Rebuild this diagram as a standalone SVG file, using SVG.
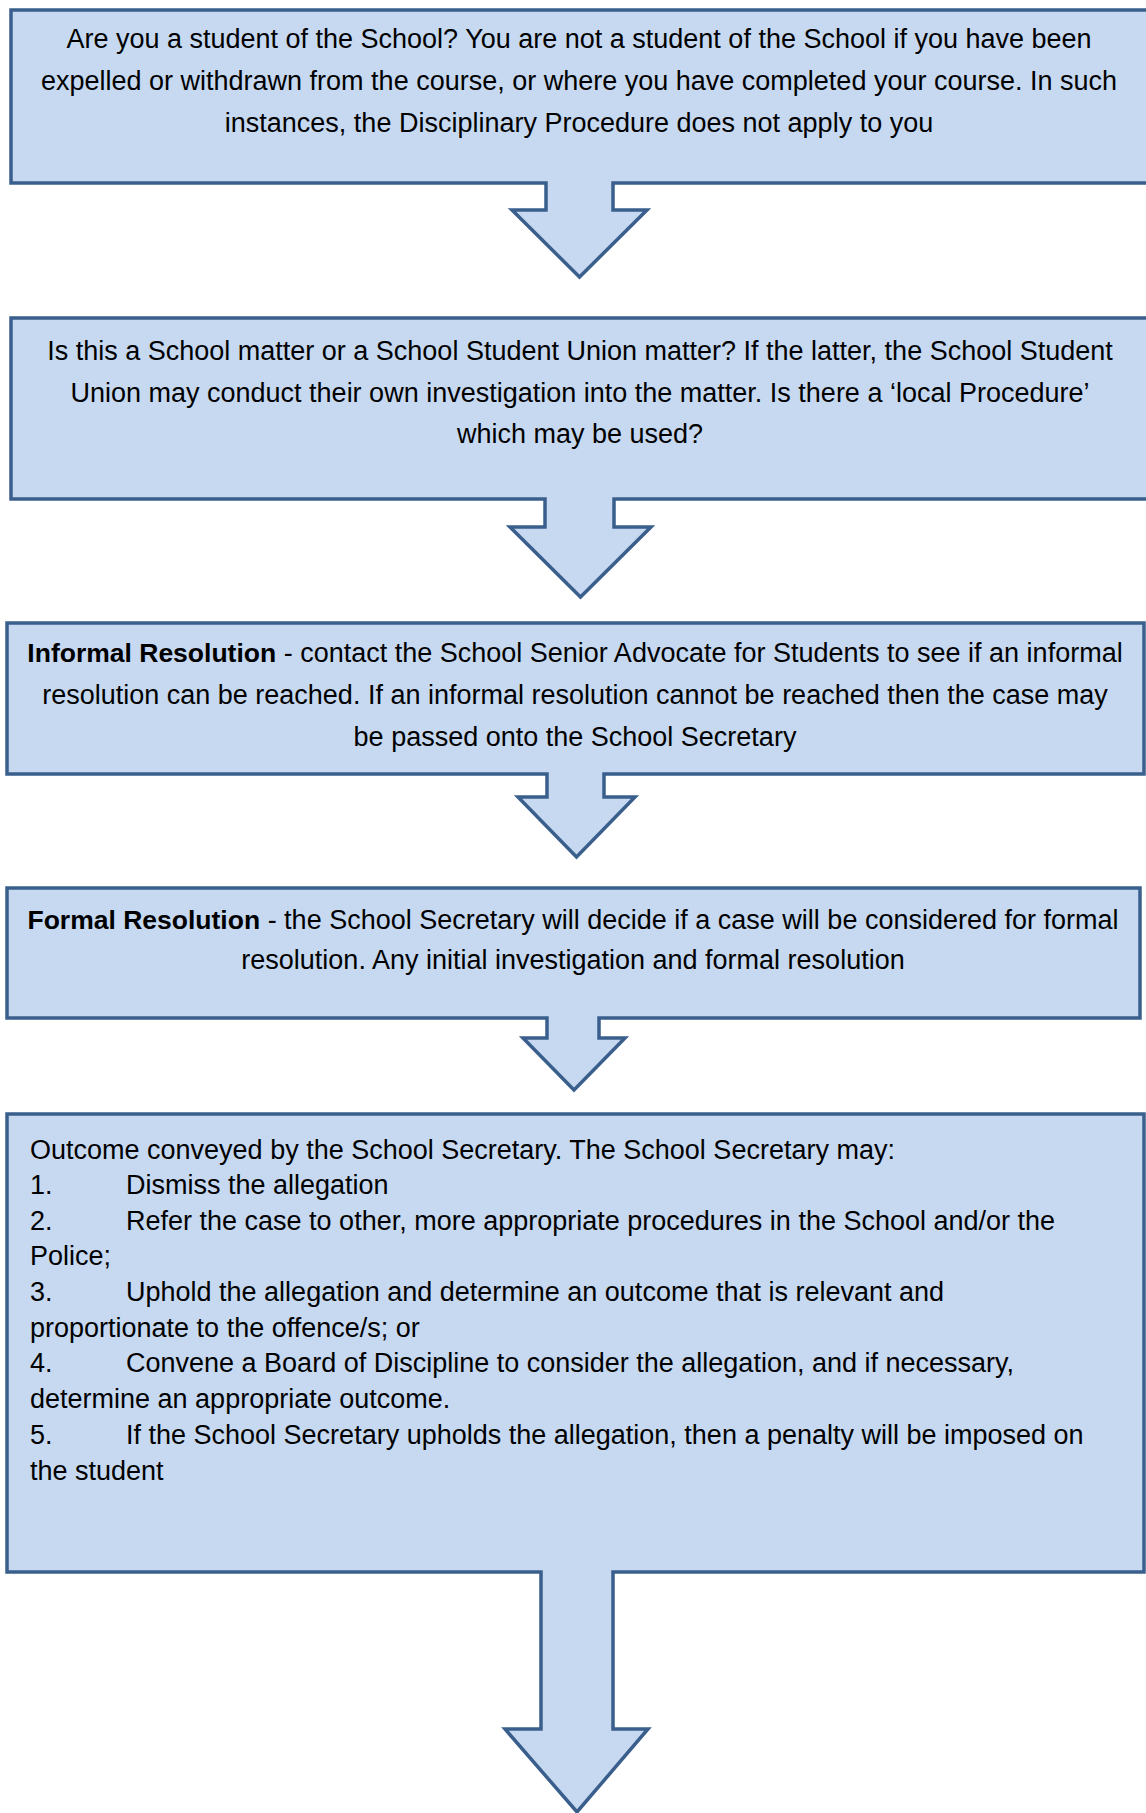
<svg xmlns="http://www.w3.org/2000/svg" width="1146" height="1813" viewBox="0 0 1146 1813">
<style>
.shape{fill:#C6D9F1;stroke:#3A5F8C;stroke-width:3.5;stroke-linejoin:miter}
text{font-family:"Liberation Sans",Arial,sans-serif;font-size:27px;fill:#000}
.c{text-anchor:middle}
.b{font-weight:bold;font-size:26.5px}
</style>
<rect width="1146" height="1813" fill="#fff"/>
<g id="connectors"></g>
<g id="node1">
<path class="shape" d="M11,10 H1150 V183 H613 V210 H647 L579.5,277 L512,210 H546 V183 H11 Z"/>
<text class="c" x="579" y="48">Are you a student of the School? You are not a student of the School if you have been</text>
<text class="c" x="579" y="90">expelled or withdrawn from the course, or where you have completed your course. In such</text>
<text class="c" x="579" y="132">instances, the Disciplinary Procedure does not apply to you</text>
</g>
<g id="node2">
<path class="shape" d="M11,318 H1150 V499 H614 V527 H651 L580.5,597 L510,527 H545 V499 H11 Z"/>
<text class="c" x="580" y="360">Is this a School matter or a School Student Union matter? If the latter, the School Student</text>
<text class="c" x="580" y="402">Union may conduct their own investigation into the matter. Is there a ‘local Procedure’</text>
<text class="c" x="580" y="443">which may be used?</text>
</g>
<g id="node3">
<path class="shape" d="M7,623 H1144 V774 H604 V797 H635 L576.5,857 L518,797 H547 V774 H7 Z"/>
<text class="c" x="575" y="662"><tspan class="b">Informal Resolution</tspan> - contact the School Senior Advocate for Students to see if an informal</text>
<text class="c" x="575" y="704">resolution can be reached. If an informal resolution cannot be reached then the case may</text>
<text class="c" x="575" y="746">be passed onto the School Secretary</text>
</g>
<g id="node4">
<path class="shape" d="M7,888 H1140 V1018 H599 V1038 H625 L574,1090 L523,1038 H547 V1018 H7 Z"/>
<text class="c" x="573" y="929"><tspan class="b">Formal Resolution</tspan> - the School Secretary will decide if a case will be considered for formal</text>
<text class="c" x="573" y="969">resolution. Any initial investigation and formal resolution</text>
</g>
<g id="node5">
<path class="shape" d="M7,1114 H1144 V1572 H613 V1729 H648 L577,1812 L505,1729 H541 V1572 H7 Z"/>
<text x="30" y="1159">Outcome conveyed by the School Secretary. The School Secretary may:</text>
<text x="30" y="1194">1.</text><text x="126" y="1194">Dismiss the allegation</text>
<text x="30" y="1230">2.</text><text x="126" y="1230">Refer the case to other, more appropriate procedures in the School and/or the</text>
<text x="30" y="1265">Police;</text>
<text x="30" y="1301">3.</text><text x="126" y="1301">Uphold the allegation and determine an outcome that is relevant and</text>
<text x="30" y="1337">proportionate to the offence/s; or</text>
<text x="30" y="1372">4.</text><text x="126" y="1372">Convene a Board of Discipline to consider the allegation, and if necessary,</text>
<text x="30" y="1408">determine an appropriate outcome.</text>
<text x="30" y="1444">5.</text><text x="126" y="1444">If the School Secretary upholds the allegation, then a penalty will be imposed on</text>
<text x="30" y="1480">the student</text>
</g>
</svg>
